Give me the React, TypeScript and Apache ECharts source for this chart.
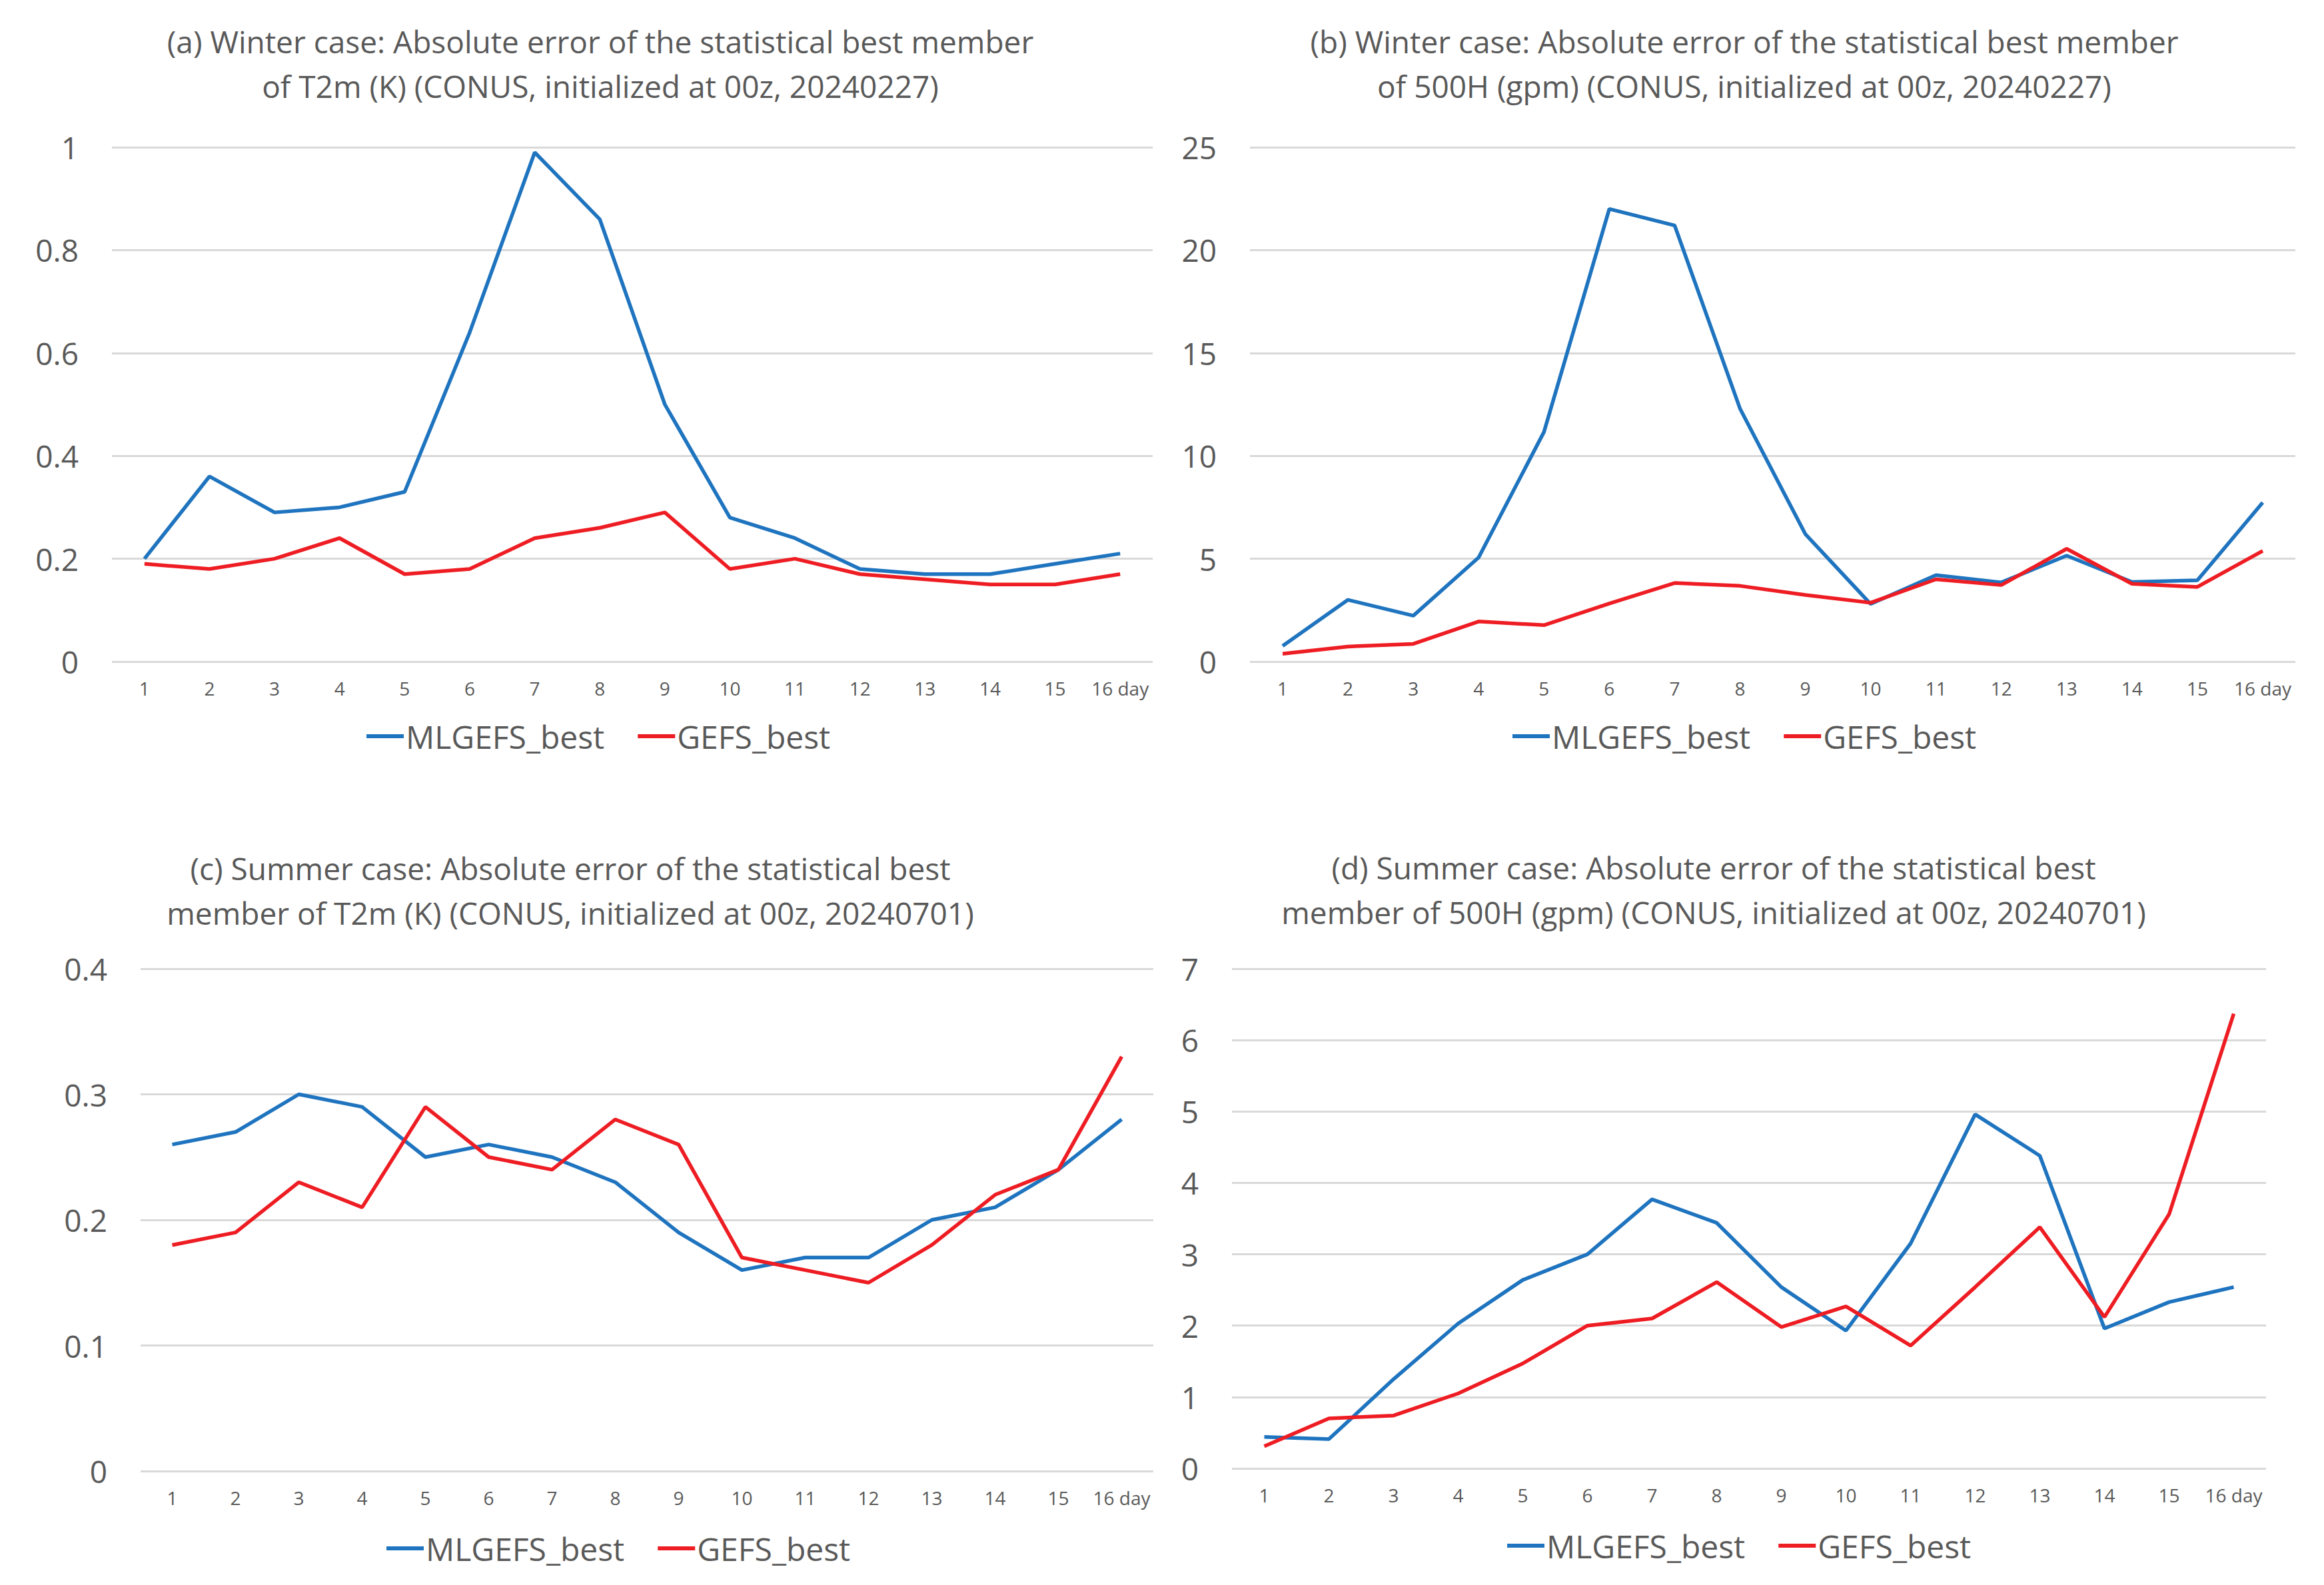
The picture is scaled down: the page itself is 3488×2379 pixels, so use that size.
import React, { useEffect, useRef } from "react";
import * as echarts from "echarts";

const days = ["1", "2", "3", "4", "5", "6", "7", "8", "9", "10", "11", "12", "13", "14", "15", "16 day"];

const titleA = "(a) Winter case: Absolute error of the statistical best member\nof T2m (K) (CONUS, initialized at 00z, 20240227)";
const titleB = "(b) Winter case: Absolute error of the statistical best member\nof 500H (gpm) (CONUS, initialized at 00z, 20240227)";
const titleC = "(c) Summer case: Absolute error of the statistical best\nmember of T2m (K) (CONUS, initialized at 00z, 20240701)";
const titleD = "(d) Summer case: Absolute error of the statistical best\nmember of 500H (gpm) (CONUS, initialized at 00z, 20240701)";

const seriesNames = ["MLGEFS_best", "GEFS_best"];

// (a) Winter T2m
const mlA = [0.20, 0.36, 0.29, 0.30, 0.33, 0.64, 0.99, 0.86, 0.50, 0.28, 0.24, 0.18, 0.17, 0.17, 0.19, 0.21];
const gfA = [0.19, 0.18, 0.20, 0.24, 0.17, 0.18, 0.24, 0.26, 0.29, 0.18, 0.20, 0.17, 0.16, 0.15, 0.15, 0.17];
// (b) Winter 500H
const mlB = [0.76, 3.0, 2.23, 5.06, 11.16, 22.0, 21.2, 12.3, 6.2, 2.8, 4.2, 3.85, 5.15, 3.87, 3.95, 7.73];
const gfB = [0.38, 0.73, 0.86, 1.95, 1.77, 2.82, 3.82, 3.68, 3.24, 2.86, 4.0, 3.72, 5.48, 3.78, 3.63, 5.38];
// (c) Summer T2m
const mlC = [0.26, 0.27, 0.30, 0.29, 0.25, 0.26, 0.25, 0.23, 0.19, 0.16, 0.17, 0.17, 0.20, 0.21, 0.24, 0.28];
const gfC = [0.18, 0.19, 0.23, 0.21, 0.29, 0.25, 0.24, 0.28, 0.26, 0.17, 0.16, 0.15, 0.18, 0.22, 0.24, 0.33];
// (d) Summer 500H
const mlD = [0.44, 0.41, 1.25, 2.03, 2.64, 3.0, 3.77, 3.44, 2.54, 1.93, 3.15, 4.96, 4.38, 1.96, 2.33, 2.54];
const gfD = [0.31, 0.70, 0.74, 1.05, 1.47, 2.0, 2.10, 2.61, 1.98, 2.27, 1.72, 2.54, 3.38, 2.12, 3.56, 6.37];

const yMax = [1, 25, 0.4, 7];
const yStep = [0.2, 5, 0.1, 1];

const FONT = "Open Sans";
const TXT = "#595959";
const BLUE = "#1f74bf";
const RED = "#ee1d23";

export default function App() {
  const ref = useRef<HTMLDivElement>(null);
  useEffect(() => {
    if (!ref.current) return;
    const chart = echarts.init(ref.current, null, { renderer: "svg" });
    const grids = [
      { left: 168, top: 221, width: 1562, height: 772 },
      { left: 1876, top: 221, width: 1569, height: 772 },
      { left: 211, top: 1454, width: 1520, height: 754 },
      { left: 1849, top: 1454, width: 1552, height: 750 },
    ];
    const titles = [titleA, titleB, titleC, titleD];
    const titlePos = [
      [901, 95],
      [2618, 95],
      [856, 1336],
      [2572, 1335],
    ];
    const legendPos = [
      [550, 1111],
      [2270, 1111],
      [580, 2330],
      [2262, 2326],
    ];
    const data = [
      [mlA, gfA],
      [mlB, gfB],
      [mlC, gfC],
      [mlD, gfD],
    ];
    const series: any[] = [];
    data.forEach((pair, i) => {
      pair.forEach((vals, j) => {
        series.push({
          name: seriesNames[j],
          type: "line",
          xAxisIndex: i,
          yAxisIndex: i,
          data: vals,
          symbol: "none",
          lineStyle: { width: 5.5, color: j === 0 ? BLUE : RED },
          itemStyle: { color: j === 0 ? BLUE : RED },
        });
      });
    });
    chart.setOption({
      animation: false,
      backgroundColor: "#ffffff",
      grid: grids,
      xAxis: grids.map((_, i) => ({
        type: "category",
        gridIndex: i,
        data: days,
        boundaryGap: true,
        axisLine: { show: false },
        axisTick: { show: false },
        axisLabel: { fontFamily: FONT, fontSize: 28, color: TXT, margin: 26, interval: 0 },
      })),
      yAxis: grids.map((_, i) => ({
        type: "value",
        gridIndex: i,
        min: 0,
        max: yMax[i],
        interval: yStep[i],
        axisLine: { show: false },
        axisTick: { show: false },
        axisLabel: { fontFamily: FONT, fontSize: 46, color: TXT, margin: 50 },
        splitLine: { lineStyle: { color: "#d9d9d9", width: 3 } },
      })),
      legend: legendPos.map((p) => ({
        left: p[0],
        top: p[1] - 30,
        padding: 0,
        itemWidth: 56,
        itemHeight: 6,
        itemGap: 50,
        icon: "rect",
        data: seriesNames,
        textStyle: { fontFamily: FONT, fontSize: 48, color: TXT, padding: [0, 0, 0, -2] },
      })),
      graphic: titles.map((t, i) => ({
        type: "text",
        x: titlePos[i][0],
        y: titlePos[i][1],
        style: {
          text: t,
          fontFamily: FONT,
          fontSize: 46,
          lineHeight: 67,
          fill: TXT,
          textAlign: "center",
          textVerticalAlign: "middle",
        },
      })),
      series,
    });
    return () => chart.dispose();
  }, []);
  return (
    <div
      ref={ref}
      style={{ position: "fixed", left: 0, top: 0, width: 3488, height: 2379, background: "#fff" }}
    />
  );
}
